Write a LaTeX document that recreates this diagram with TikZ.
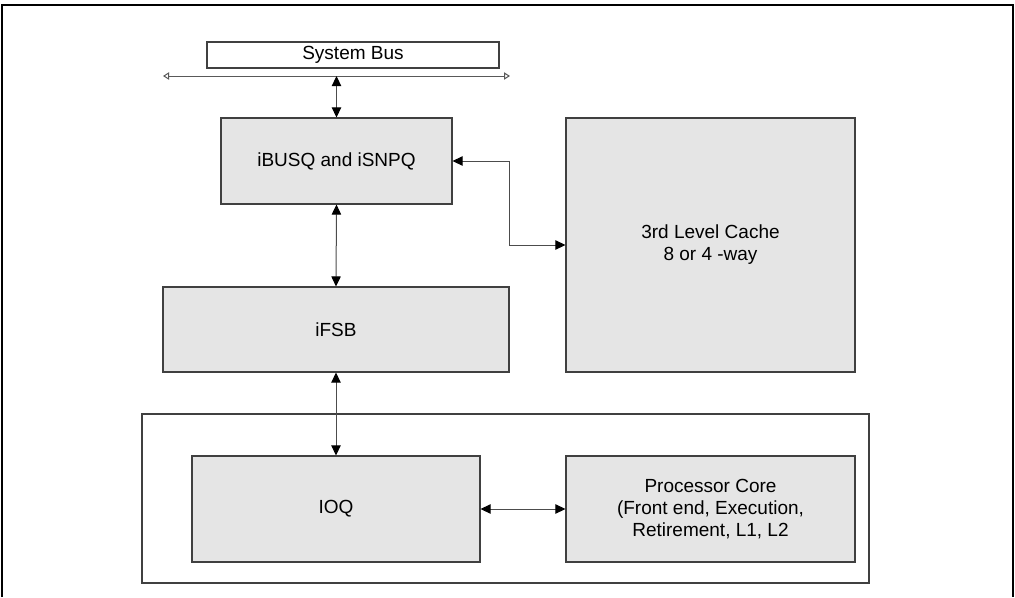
\documentclass[tikz,border=0pt]{standalone}
\usepackage{fontspec}
\setmainfont{Liberation Sans}
\usetikzlibrary{
arrows.meta,
calc,
}

\tikzset{
	block/.style={draw=black!75, line width=0.8pt, fill=black!10, inner sep=0pt, align=center, font=\fontsize{14.25}{16.5}\selectfont},
	link/.style={draw=black!70, line width=0.75pt, {Triangle[length=7.5pt, width=7pt, color=black]}-{Triangle[length=7.5pt, width=7pt, color=black]}},
	buslink/.style={draw=black!65, line width=0.75pt, {Triangle[open, length=4.5pt, width=5.5pt, fill=white]}-{Triangle[open, length=4.5pt, width=5.5pt, fill=white]}},
}

\begin{document}
\begin{tikzpicture}[x=0.75pt, y=-0.75pt]
			\useasboundingbox (0,0) rectangle (1015,597);

			\coordinate(W) at (163,76);
			\coordinate(E) at (510,76);

			\draw[line width=2pt] (2,597) -- (2,5) -- (1013,5) -- (1013,597);
			\draw[draw=black!75, line width=0.8pt] (142,414) rectangle (869,583);

			\node[block, fill=white, minimum width=219pt, minimum height=19.5pt] (sysbus) at (353,55) {System Bus};
			\node[block, minimum width=173.25pt, minimum height=64.5pt] (busq) at (336.5,161) {iBUSQ and iSNPQ};
			\node[block, minimum width=259.5pt, minimum height=63.75pt] (fsb) at (336,329.5) {iFSB};
			\node[block, minimum width=216.75pt, minimum height=190.5pt] (cache) at (710.5,245) {3rd Level Cache\\8 or 4 -way};
			\node[block, minimum width=216pt, minimum height=79.5pt] (ioq) at (336,509) {IOQ};
			\node[block, minimum width=216.75pt, minimum height=79.5pt] (core) at (710.5,509) {Processor Core\\(Front end, Execution,\\Retirement, L1, L2};

			\draw[buslink] (W) -- (E);
			\draw[link] (busq.north |- W) -- (busq.north);
			\draw[link] (busq.south) -- (fsb.north);
			\draw[link] (busq.east) -- ++(57,0) |- (cache.west);
			\draw[link] (fsb.south) -- (ioq.north);
			\draw[link] (ioq.east) -- (core.west);
		\end{tikzpicture}
\end{document}
